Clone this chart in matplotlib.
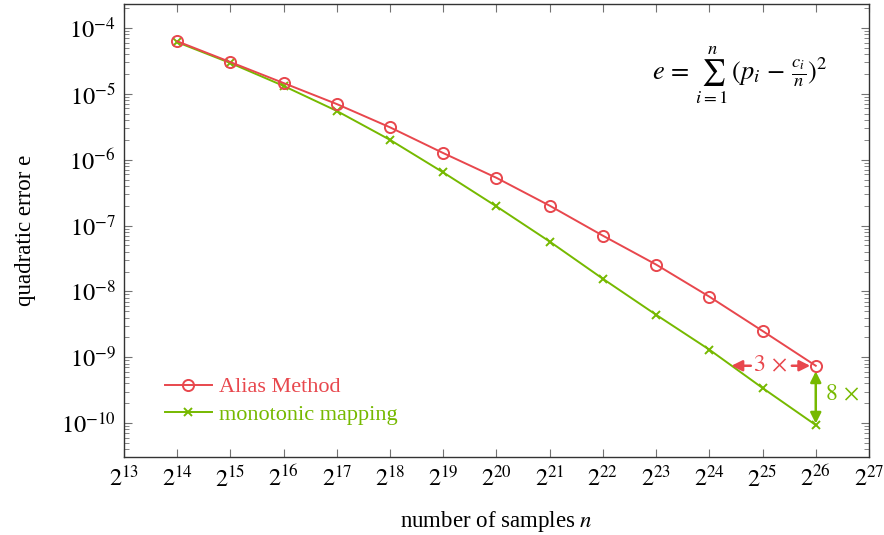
import numpy as np
import matplotlib
matplotlib.use("Agg")
import matplotlib.pyplot as plt
from matplotlib.ticker import FixedLocator, LogLocator, NullFormatter

plt.rcParams['font.family'] = ['Liberation Serif', 'DejaVu Serif']
plt.rcParams['mathtext.fontset'] = 'stix'
plt.rcParams['font.size'] = 16

# sample counts are powers of two, 2^14 .. 2^26
exponents = [14, 15, 16, 17, 18, 19, 20, 21, 22, 23, 24, 25, 26]
alias_err = [6.3e-5, 3.04e-5, 1.46e-5, 7.0e-6, 3.1e-6, 1.26e-6, 5.3e-7,
             2.0e-7, 7.0e-8, 2.55e-8, 8.3e-9, 2.5e-9, 7.4e-10]
mono_err = [6.1e-5, 2.94e-5, 1.32e-5, 5.5e-6, 2.0e-6, 6.4e-7, 1.95e-7,
            5.7e-8, 1.55e-8, 4.4e-9, 1.3e-9, 3.4e-10, 9.3e-11]

RED = '#e8474d'
GREEN = '#76b900'

n = np.array([2.0 ** e for e in exponents])

fig = plt.figure(figsize=(8.84, 5.35), dpi=100)
ax = fig.add_axes([0.1403, 0.1458, 0.8427, 0.8467])

ax.plot(n, mono_err, color=GREEN, lw=1.4, marker='x', ms=6, mew=1.4,
        label='monotonic mapping', zorder=3)
ax.plot(n, alias_err, color=RED, lw=1.4, marker='o', ms=8, mew=1.4,
        mfc='none', label='Alias Method', zorder=4)

ax.set_xscale('log', base=2)
ax.set_yscale('log')
ax.set_xlim(2.0 ** 13, 2.0 ** 27)
ax.set_ylim(3.04e-11, 2.32e-4)

xt = [2.0 ** e for e in range(13, 28)]
ax.xaxis.set_major_locator(FixedLocator(xt))
ax.set_xticklabels([rf'$2^{{{e}}}$' for e in range(13, 28)])
ax.xaxis.set_minor_locator(FixedLocator([]))
ax.yaxis.set_major_locator(FixedLocator([10.0 ** k for k in range(-10, -3)]))
ax.set_yticklabels([rf'$10^{{{k}}}$' for k in range(-10, -3)])
ax.yaxis.set_minor_locator(LogLocator(base=10, subs=np.arange(2, 10), numticks=30))
ax.yaxis.set_minor_formatter(NullFormatter())

ax.tick_params(which='both', direction='in', top=True, right=True, color='0.45')
ax.tick_params(which='major', length=6, width=0.8, labelsize=17.5, pad=6)
ax.tick_params(which='minor', length=3.5, width=0.6)
for s in ax.spines.values():
    s.set_linewidth(1.0)
    s.set_color('0.2')

ax.set_xlabel(r'number of samples $n$', fontsize=16.5, labelpad=13)
ax.set_ylabel('quadratic error e', fontsize=16.5, labelpad=18)

leg = ax.legend(handles=ax.get_lines()[::-1], loc='lower left',
                bbox_to_anchor=(0.04, 0.047), frameon=False, fontsize=16,
                handlelength=2.1, handletextpad=0.35, labelspacing=0.3,
                borderpad=0)
for txt, col in zip(leg.get_texts(), [RED, GREEN]):
    txt.set_color(col)

ax.text(0.827, 0.843, r'$e\,=\,\sum_{i=1}^{n}\,(p_i\,-\,\frac{c_i}{n})^2$',
        transform=ax.transAxes, ha='center', va='center', fontsize=19)

# 3x annotation: same error reached by mapping with a third of the samples
y_last = alias_err[-1]
ax.text(n[-1] * 2 ** -0.85, y_last, r'$3\,\times$', color=RED, ha='center',
        va='center', fontsize=17)
ax.annotate('', xy=(n[-1] / 3, y_last), xytext=(n[-1] * 2 ** -1.22, y_last),
            arrowprops=dict(arrowstyle='-|>', color=RED, lw=1.8,
                            mutation_scale=16, shrinkA=0, shrinkB=0))
ax.annotate('', xy=(n[-1], y_last), xytext=(n[-1] * 2 ** -0.45, y_last),
            arrowprops=dict(arrowstyle='-|>', color=RED, lw=1.8,
                            mutation_scale=16, shrinkA=0, shrinkB=4))

# 8x annotation: error ratio at the largest sample count
ax.annotate('', xy=(n[-1], mono_err[-1]), xytext=(n[-1], y_last),
            arrowprops=dict(arrowstyle='<|-|>', color=GREEN, lw=1.8,
                            mutation_scale=16, shrinkA=4, shrinkB=1))
ax.text(n[-1] * 2 ** 0.17, np.sqrt(y_last * mono_err[-1]), r'$8\,\times$',
        color=GREEN, ha='left', va='center', fontsize=17)

fig.savefig('out.png', dpi=100)
